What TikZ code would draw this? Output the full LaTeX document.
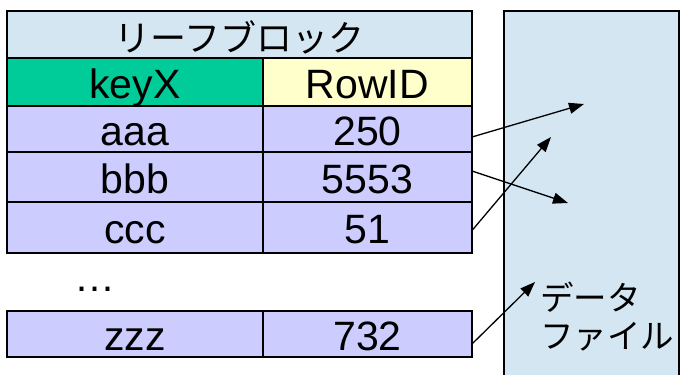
\documentclass[tikz,border=0pt]{standalone}
\usepackage{fontspec}
\setmainfont{Liberation Sans}
\newfontfamily\jpfont{Noto Sans CJK JP}
\usetikzlibrary{arrows.meta}
\definecolor{titlebg}{HTML}{D5E6F3}
\definecolor{keybg}{HTML}{00CC99}
\definecolor{ridbg}{HTML}{FFFFCC}
\definecolor{rowbg}{HTML}{CCCCFF}
\definecolor{filebg}{HTML}{D5E6F3}
\begin{document}
\begin{tikzpicture}[x=1pt,y=-1pt,
  cell/.style={rectangle, draw=black, line width=1.5pt, inner sep=0pt, outer sep=0pt,
    text height=32pt, text depth=0pt,
    font=\fontsize{41}{44}\selectfont},
  jp/.style={font=\jpfont\fontsize{36}{40}\selectfont},
  arr/.style={line width=1.3pt, -{Triangle[length=15pt,width=11pt]}}]
\useasboundingbox (0,0) rectangle (681,375);
% data file
\path[fill=filebg, draw=black, line width=1.5pt] (504,11) -- (504,385) -- (679,385) -- (679,11) -- cycle;
\node[font=\jpfont\fontsize{33.5}{38}\selectfont, anchor=north west, align=left, inner sep=0pt] (file) at (540,282) {データ\\[0pt]ファイル};
% table
\node[cell, fill=titlebg, minimum width=465pt, minimum height=47pt, jp, text height=34pt] (title) at (239.5,34.5) {リーフブロック};
\node[cell, fill=keybg, minimum width=256pt, minimum height=48pt] (hk) at (135,82) {keyX};
\node[cell, fill=ridbg, minimum width=209pt, minimum height=48pt] (hr) at (367.5,82) {RowID};
\node[cell, fill=rowbg, minimum width=256pt, minimum height=46pt] (k1) at (135,129) {aaa};
\node[cell, fill=rowbg, minimum width=209pt, minimum height=46pt] (v1) at (367.5,129) {250};
\node[cell, fill=rowbg, minimum width=256pt, minimum height=50pt] (k2) at (135,177) {bbb};
\node[cell, fill=rowbg, minimum width=209pt, minimum height=50pt] (v2) at (367.5,177) {5553};
\node[cell, fill=rowbg, minimum width=256pt, minimum height=51pt] (k3) at (135,227.5) {ccc};
\node[cell, fill=rowbg, minimum width=209pt, minimum height=51pt] (v3) at (367.5,227.5) {51};
\node[font=\fontsize{41}{44}\selectfont, anchor=base, inner sep=0pt] (dots) at (95,291) {…};
\node[cell, fill=rowbg, minimum width=256pt, minimum height=46pt] (k4) at (135,334) {zzz};
\node[cell, fill=rowbg, minimum width=209pt, minimum height=46pt] (v4) at (367.5,334) {732};
% arrow targets
\coordinate (e1) at (584,104);
\coordinate (e2) at (568,203);
\coordinate (e3) at (551,137);
\coordinate (e4) at (535,282);
\draw[arr] ([yshift=-8pt]v1.east) -- (e1);
\draw[arr] ([yshift=6pt]v2.east) -- (e2);
\draw[arr] ([yshift=-3pt]v3.east) -- (e3);
\draw[arr] ([yshift=-10pt]v4.east) -- (e4);
\end{tikzpicture}
\end{document}
